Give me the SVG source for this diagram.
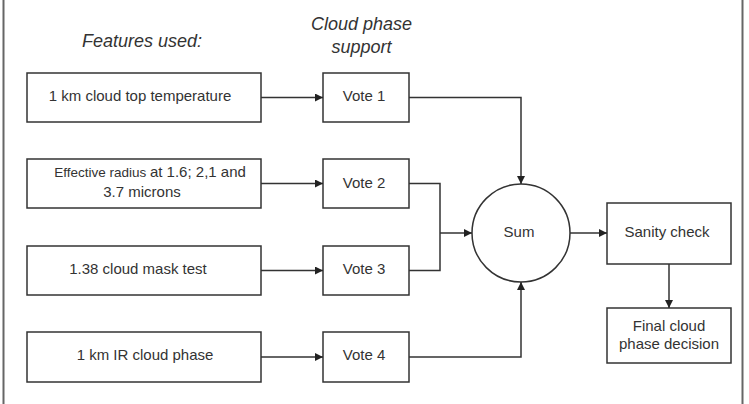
<svg xmlns="http://www.w3.org/2000/svg" width="749" height="404" viewBox="0 0 749 404">
<defs>
<style>
.box{fill:#fff;stroke:#333;stroke-width:1.5}
.ln{fill:none;stroke:#333;stroke-width:1.5}
.t{font-family:"Liberation Sans",Arial,sans-serif;font-size:15px;fill:#333;text-anchor:middle}
.h{font-family:"Liberation Sans",Arial,sans-serif;font-size:18px;font-style:italic;fill:#333;text-anchor:middle}
.frame{stroke:#666;stroke-width:2}
</style>
<marker id="ah" viewBox="0 0 10 10" refX="10" refY="5" markerWidth="8" markerHeight="8" markerUnits="userSpaceOnUse" orient="auto">
<path d="M0,0 L10,5 L0,10 z" fill="#222"/>
</marker>
</defs>
<rect x="0" y="0" width="749" height="404" fill="#fff"/>
<line class="frame" x1="3.5" y1="0" x2="3.5" y2="404"/>
<line class="frame" x1="742.5" y1="0" x2="742.5" y2="404"/>

<g id="headers">
<text class="h" x="142" y="47">Features used:</text>
<text class="h" x="361.5" y="30">Cloud phase</text>
<text class="h" x="361.5" y="53">support</text>
</g>

<g id="f1"><rect class="box" x="27" y="73" width="234" height="49"/><text class="t" x="140" y="101">1 km cloud top temperature</text></g>
<g id="f2"><rect class="box" x="27" y="159" width="234" height="49"/><text class="t" x="150" y="177"><tspan font-size="13.5px">Effective radius </tspan>at 1.6; 2,1 and</text><text class="t" x="142" y="197">3.7 microns</text></g>
<g id="f3"><rect class="box" x="27" y="246" width="234" height="49"/><text class="t" x="138" y="274">1.38 cloud mask test</text></g>
<g id="f4"><rect class="box" x="27" y="332" width="234" height="50"/><text class="t" x="145" y="360">1 km IR cloud phase</text></g>

<g id="v1"><rect class="box" x="323" y="73" width="86" height="49"/><text class="t" x="364" y="101">Vote 1</text></g>
<g id="v2"><rect class="box" x="323" y="159" width="86" height="49"/><text class="t" x="364" y="188">Vote 2</text></g>
<g id="v3"><rect class="box" x="323" y="246" width="86" height="49"/><text class="t" x="364" y="274">Vote 3</text></g>
<g id="v4"><rect class="box" x="323" y="332" width="86" height="50"/><text class="t" x="364" y="360">Vote 4</text></g>

<g id="sum"><circle class="box" cx="521" cy="233" r="49"/><text class="t" x="519" y="237">Sum</text></g>
<g id="sanity"><rect class="box" x="607" y="203" width="124" height="61"/><text class="t" x="667" y="237">Sanity check</text></g>
<g id="final"><rect class="box" x="607" y="308" width="124" height="55"/><text class="t" x="669" y="331">Final cloud</text><text class="t" x="669" y="349">phase decision</text></g>

<g id="connectors">
<path class="ln" d="M261,97.5 H323" marker-end="url(#ah)"/>
<path class="ln" d="M261,183.5 H323" marker-end="url(#ah)"/>
<path class="ln" d="M261,270.5 H323" marker-end="url(#ah)"/>
<path class="ln" d="M261,357 H323" marker-end="url(#ah)"/>
<path class="ln" d="M409,97.5 H521 V184" marker-end="url(#ah)"/>
<path class="ln" d="M409,183.5 H440 V270.5 H409"/>
<path class="ln" d="M440,233 H472" marker-end="url(#ah)"/>
<path class="ln" d="M409,357 H521 V282" marker-end="url(#ah)"/>
<path class="ln" d="M570,233 H607" marker-end="url(#ah)"/>
<path class="ln" d="M669,264 V308" marker-end="url(#ah)"/>
</g>
</svg>
